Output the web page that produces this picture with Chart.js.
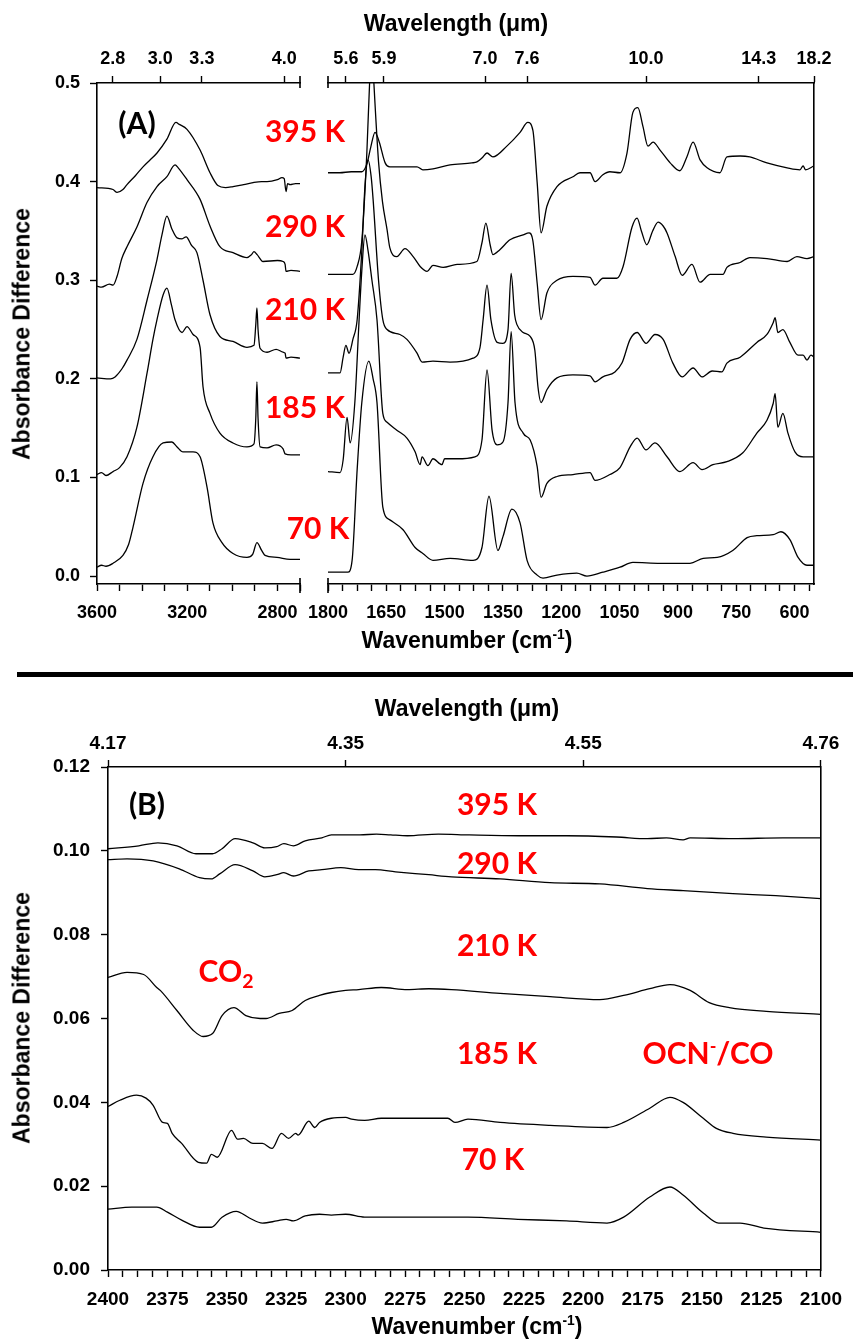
<!DOCTYPE html>
<html>
<head>
<meta charset="utf-8">
<script src="https://cdn.jsdelivr.net/npm/chart.js@4/dist/chart.umd.min.js"></script>
<style>
  body { margin: 0; background: #fff; }
  #page { position: relative; width: 853px; height: 1341px; overflow: hidden; }
  canvas { position: absolute; }
  .lbl { position: absolute; transform: translate(-50%, -50%); white-space: nowrap; }
  .ttl { font-family: 'Liberation Sans', Arial, sans-serif; font-weight: bold; font-size: 23px; color: #000; }
  .red { font-family: Lato, 'Open Sans', sans-serif; font-weight: 700; font-size: 30px; color: #ff0000; }
  .pan { font-family: Lato, 'Open Sans', sans-serif; font-weight: 700; font-size: 30px; color: #000; }
  .rot { transform: translate(-50%, -50%) rotate(-90deg); }
  sup { font-size: 60%; }
  sub { font-size: 65%; vertical-align: -0.3em; }
  #sep { position: absolute; left: 17px; top: 672px; width: 836px; height: 5px; background: #000; }
</style>
</head>
<body>
<div id="page">
  <canvas id="aLeft" width="312" height="660" style="left:0;top:0"></canvas>
  <canvas id="aRight" width="563" height="660" style="left:290px;top:0"></canvas>
  <canvas id="bChart" width="853" height="661" style="left:0;top:680px"></canvas>

  <div class="lbl ttl" style="left:456px;top:23px">Wavelength (μm)</div>
  <div class="lbl ttl" style="left:467px;top:640px">Wavenumber (cm<sup>-1</sup>)</div>
  <div class="lbl ttl rot" style="left:22px;top:334px">Absorbance Difference</div>
  <div class="lbl pan" style="left:137px;top:122px">(A)</div>
  <div class="lbl red" style="left:305px;top:130px">395 K</div>
  <div class="lbl red" style="left:305px;top:225px">290 K</div>
  <div class="lbl red" style="left:305px;top:308px">210 K</div>
  <div class="lbl red" style="left:305px;top:406px">185 K</div>
  <div class="lbl red" style="left:318px;top:527px">70 K</div>

  <div id="sep"></div>

  <div class="lbl ttl" style="left:467px;top:708px">Wavelength (μm)</div>
  <div class="lbl ttl" style="left:477px;top:1326px">Wavenumber (cm<sup>-1</sup>)</div>
  <div class="lbl ttl rot" style="left:22px;top:1018px">Absorbance Difference</div>
  <div class="lbl pan" style="left:147px;top:803px">(B)</div>
  <div class="lbl red" style="left:497px;top:803px">395 K</div>
  <div class="lbl red" style="left:497px;top:862px">290 K</div>
  <div class="lbl red" style="left:497px;top:944px">210 K</div>
  <div class="lbl red" style="left:226px;top:972px">CO<sub>2</sub></div>
  <div class="lbl red" style="left:497px;top:1052px">185 K</div>
  <div class="lbl red" style="left:708px;top:1052px">OCN<sup>-</sup>/CO</div>
  <div class="lbl red" style="left:493px;top:1158px">70 K</div>
</div>

<script>
// ---------- panel A, 3600-2700 cm-1 ----------
const a395L = [[3600,0.394],[3529,0.392],[3511,0.389],[3485,0.392],[3467,0.397],[3430,0.406],[3396,0.415],[3365,0.422],[3334,0.429],[3290,0.443],[3250,0.460],[3235,0.458],[3201,0.453],[3143,0.432],[3099,0.409],[3064,0.396],[3030,0.394],[2997,0.395],[2950,0.397],[2908,0.399],[2870,0.400],[2846,0.400],[2800,0.402],[2780,0.404],[2770,0.403],[2762,0.390],[2755,0.398],[2744,0.397],[2720,0.398],[2700,0.398]];
const a290L = [[3600,0.294],[3580,0.293],[3545,0.296],[3529,0.295],[3511,0.304],[3490,0.322],[3467,0.334],[3423,0.354],[3378,0.379],[3334,0.395],[3290,0.405],[3254,0.417],[3240,0.414],[3201,0.402],[3143,0.382],[3099,0.355],[3055,0.334],[2997,0.328],[2935,0.323],[2915,0.326],[2904,0.329],[2890,0.326],[2864,0.319],[2800,0.320],[2775,0.319],[2766,0.316],[2762,0.309],[2740,0.310],[2700,0.309]];
const a210L = [[3600,0.201],[3540,0.200],[3520,0.202],[3490,0.210],[3467,0.219],[3423,0.240],[3378,0.280],[3334,0.321],[3312,0.346],[3290,0.365],[3268,0.352],[3245,0.343],[3223,0.342],[3205,0.344],[3180,0.335],[3157,0.328],[3130,0.300],[3099,0.265],[3055,0.243],[2997,0.238],[2935,0.232],[2904,0.234],[2896,0.255],[2891,0.272],[2886,0.250],[2877,0.231],[2846,0.227],[2806,0.230],[2775,0.227],[2766,0.226],[2762,0.221],[2740,0.222],[2700,0.221]];
const a185L = [[3600,0.103],[3580,0.105],[3560,0.102],[3529,0.106],[3500,0.110],[3467,0.121],[3423,0.151],[3378,0.206],[3352,0.240],[3334,0.260],[3307,0.285],[3290,0.292],[3270,0.275],[3254,0.260],[3223,0.247],[3201,0.253],[3174,0.245],[3143,0.232],[3130,0.192],[3099,0.165],[3055,0.145],[2997,0.135],[2935,0.131],[2904,0.134],[2896,0.160],[2891,0.197],[2886,0.160],[2877,0.131],[2846,0.130],[2806,0.133],[2775,0.129],[2766,0.124],[2740,0.123],[2700,0.123]];
const a70L = [[3600,0.009],[3580,0.011],[3560,0.010],[3529,0.013],[3485,0.021],[3460,0.032],[3440,0.050],[3396,0.094],[3352,0.121],[3307,0.135],[3268,0.136],[3245,0.131],[3219,0.126],[3174,0.126],[3143,0.121],[3112,0.090],[3086,0.054],[3046,0.034],[2997,0.023],[2935,0.019],[2910,0.022],[2891,0.034],[2870,0.026],[2855,0.021],[2802,0.019],[2744,0.017],[2700,0.017]];

// ---------- panel A, 1800-550 cm-1 ----------
const a395R = [[1800,0.409],[1770,0.409],[1740,0.410],[1713,0.410],[1700,0.418],[1690,0.435],[1679,0.450],[1668,0.440],[1653,0.419],[1641,0.415],[1615,0.415],[1571,0.415],[1556,0.412],[1530,0.413],[1486,0.417],[1430,0.419],[1417,0.420],[1404,0.424],[1391,0.429],[1376,0.425],[1340,0.436],[1306,0.450],[1286,0.460],[1273,0.452],[1262,0.399],[1252,0.348],[1237,0.375],[1211,0.395],[1170,0.405],[1152,0.409],[1126,0.409],[1113,0.400],[1093,0.407],[1075,0.410],[1049,0.409],[1031,0.429],[1016,0.470],[1003,0.475],[990,0.456],[977,0.436],[964,0.440],[946,0.432],[920,0.419],[895,0.411],[877,0.425],[861,0.440],[843,0.422],[825,0.414],[792,0.409],[774,0.425],[740,0.426],[715,0.425],[671,0.419],[619,0.414],[586,0.412],[578,0.416],[572,0.412],[550,0.416]];
const a290R = [[1800,0.306],[1769,0.306],[1736,0.306],[1725,0.314],[1713,0.340],[1700,0.430],[1692,0.510],[1687,0.540],[1682,0.500],[1670,0.420],[1660,0.380],[1648,0.351],[1641,0.333],[1623,0.324],[1602,0.332],[1581,0.324],[1563,0.314],[1545,0.309],[1530,0.315],[1504,0.313],[1468,0.316],[1417,0.319],[1404,0.338],[1394,0.358],[1383,0.336],[1376,0.326],[1358,0.331],[1332,0.341],[1298,0.346],[1283,0.348],[1273,0.340],[1262,0.297],[1252,0.260],[1237,0.287],[1211,0.300],[1170,0.304],[1126,0.303],[1113,0.295],[1093,0.302],[1057,0.302],[1041,0.314],[1018,0.354],[1005,0.363],[994,0.350],[980,0.336],[965,0.350],[951,0.359],[938,0.355],[928,0.348],[907,0.324],[889,0.305],[864,0.316],[843,0.298],[817,0.306],[784,0.306],[774,0.313],[740,0.318],[715,0.323],[671,0.322],[619,0.319],[594,0.324],[568,0.322],[550,0.324]];
const a210R = [[1800,0.206],[1769,0.206],[1761,0.222],[1754,0.234],[1746,0.226],[1736,0.240],[1725,0.260],[1713,0.330],[1705,0.395],[1697,0.422],[1689,0.405],[1684,0.382],[1670,0.300],[1659,0.260],[1648,0.250],[1615,0.245],[1597,0.240],[1571,0.226],[1558,0.217],[1530,0.218],[1486,0.217],[1427,0.221],[1409,0.232],[1401,0.260],[1391,0.295],[1381,0.260],[1365,0.237],[1350,0.236],[1337,0.250],[1329,0.307],[1320,0.265],[1314,0.255],[1298,0.247],[1280,0.243],[1268,0.229],[1260,0.192],[1252,0.176],[1237,0.189],[1211,0.201],[1170,0.204],[1126,0.203],[1113,0.197],[1093,0.202],[1062,0.207],[1044,0.216],[1023,0.240],[1005,0.247],[982,0.236],[959,0.245],[938,0.240],[913,0.216],[889,0.202],[861,0.211],[838,0.202],[812,0.208],[787,0.207],[774,0.216],[740,0.222],[697,0.237],[671,0.245],[655,0.257],[650,0.262],[643,0.247],[630,0.250],[612,0.237],[591,0.224],[578,0.224],[568,0.219],[558,0.224],[550,0.222]];
const a185R = [[1800,0.106],[1769,0.105],[1761,0.118],[1751,0.161],[1743,0.135],[1731,0.176],[1720,0.260],[1713,0.310],[1705,0.346],[1697,0.330],[1687,0.300],[1674,0.260],[1659,0.165],[1648,0.156],[1623,0.148],[1597,0.140],[1576,0.126],[1563,0.113],[1558,0.121],[1543,0.112],[1530,0.119],[1507,0.113],[1500,0.119],[1468,0.119],[1422,0.121],[1404,0.138],[1391,0.209],[1378,0.148],[1365,0.133],[1350,0.136],[1337,0.176],[1329,0.248],[1319,0.176],[1298,0.145],[1280,0.138],[1262,0.111],[1252,0.080],[1237,0.094],[1211,0.101],[1170,0.103],[1126,0.105],[1113,0.097],[1075,0.103],[1049,0.110],[1023,0.131],[1005,0.140],[982,0.128],[959,0.135],[928,0.121],[895,0.106],[861,0.115],[838,0.108],[810,0.113],[774,0.116],[733,0.125],[697,0.145],[671,0.158],[655,0.175],[650,0.185],[643,0.151],[630,0.165],[617,0.145],[599,0.126],[578,0.121],[550,0.121]];
const a70R = [[1800,0.004],[1749,0.004],[1738,0.016],[1725,0.108],[1713,0.176],[1695,0.218],[1684,0.200],[1674,0.176],[1659,0.070],[1641,0.057],[1607,0.047],[1576,0.029],[1556,0.023],[1530,0.016],[1486,0.018],[1427,0.016],[1404,0.029],[1386,0.081],[1363,0.026],[1350,0.040],[1327,0.068],[1306,0.054],[1288,0.016],[1262,0.001],[1247,-0.002],[1211,0.001],[1160,0.003],[1134,0.000],[1093,0.004],[1049,0.009],[1016,0.014],[946,0.013],[869,0.013],[835,0.018],[799,0.019],[759,0.026],[722,0.039],[697,0.041],[655,0.042],[635,0.045],[612,0.037],[591,0.019],[568,0.011],[550,0.011]];

// ---------- panel B, 2400-2100 cm-1 ----------
const b395 = [[2400,0.1005],[2387,0.1012],[2379,0.1019],[2371,0.1012],[2363,0.0993],[2356,0.0993],[2352,0.1005],[2346.5,0.1029],[2339,0.1019],[2334,0.1007],[2329,0.1010],[2326,0.1017],[2322,0.1012],[2317,0.1024],[2310,0.1031],[2306,0.1038],[2294,0.1038],[2287,0.1040],[2281,0.1038],[2274,0.1036],[2261,0.1040],[2248,0.1038],[2227,0.1036],[2207,0.1036],[2186,0.1033],[2173,0.1029],[2165,0.1031],[2158,0.1026],[2155,0.1031],[2137,0.1029],[2116,0.1031],[2100,0.1031]];
const b290 = [[2400,0.0979],[2392,0.0981],[2381,0.0976],[2370,0.0957],[2361.5,0.0936],[2356.5,0.0933],[2353,0.0945],[2346.5,0.0967],[2339,0.0952],[2334,0.0938],[2329,0.0943],[2326,0.0948],[2322,0.0940],[2315.5,0.0952],[2310,0.0955],[2302,0.0960],[2294.5,0.0955],[2287.5,0.0955],[2279,0.0950],[2265,0.0943],[2255.5,0.0938],[2235,0.0933],[2214,0.0924],[2193,0.0921],[2173,0.0910],[2158,0.0905],[2137,0.0898],[2119,0.0893],[2100,0.0886]];
const b210 = [[2400,0.0698],[2392,0.0710],[2385,0.0705],[2379.5,0.0674],[2378,0.0667],[2371,0.0619],[2364,0.0571],[2360,0.0557],[2356,0.0564],[2352,0.0607],[2347,0.0626],[2342,0.0607],[2336,0.0600],[2333.5,0.0600],[2328,0.0612],[2322.5,0.0619],[2317,0.0643],[2311,0.0655],[2306,0.0662],[2300,0.0667],[2294.5,0.0669],[2285,0.0674],[2274,0.0669],[2265,0.0671],[2255.5,0.0669],[2235,0.0660],[2214,0.0652],[2193,0.0645],[2183,0.0655],[2172,0.0671],[2163.5,0.0681],[2155,0.0667],[2147,0.0638],[2138.5,0.0626],[2123,0.0617],[2100,0.0610]];
const b185 = [[2400,0.0390],[2395,0.0405],[2388,0.0417],[2384,0.0410],[2381,0.0393],[2377,0.0352],[2375,0.0350],[2373,0.0326],[2369,0.0302],[2362,0.0257],[2358.5,0.0255],[2356.5,0.0276],[2354,0.0269],[2348,0.0333],[2345.5,0.0312],[2343,0.0314],[2339,0.0302],[2335,0.0302],[2331,0.0290],[2327,0.0326],[2324,0.0314],[2321,0.0326],[2320,0.0322],[2315.5,0.0355],[2313,0.0340],[2311,0.0352],[2306,0.0362],[2300,0.0364],[2297.5,0.0360],[2292,0.0357],[2285,0.0362],[2278,0.0362],[2265,0.0362],[2257,0.0362],[2254,0.0352],[2248.5,0.0360],[2235,0.0352],[2214,0.0345],[2190,0.0340],[2183,0.0352],[2172,0.0386],[2163.5,0.0412],[2158,0.0400],[2149.5,0.0362],[2144,0.0338],[2137,0.0326],[2123,0.0317],[2100,0.0310]];
const b70 = [[2400,0.0145],[2390,0.0150],[2379.5,0.0150],[2375,0.0138],[2369,0.0119],[2361.5,0.0102],[2356.5,0.0102],[2352,0.0126],[2346,0.0140],[2340.5,0.0124],[2335,0.0112],[2329,0.0117],[2325,0.0121],[2322,0.0117],[2317,0.0129],[2311,0.0133],[2306,0.0131],[2300,0.0133],[2292,0.0126],[2278,0.0126],[2248.5,0.0126],[2227.5,0.0121],[2207,0.0117],[2190,0.0112],[2183,0.0126],[2172,0.0174],[2163.5,0.0198],[2158,0.0179],[2149.5,0.0136],[2143,0.0112],[2134,0.0112],[2124,0.0100],[2100,0.0090]];

// top (wavelength) axis tick positions, in cm-1, and their labels
const topLeftWn = [3530, 3320, 3135, 2770];
const topLeftLbl = ['2.8', '3.0', '3.3', '4.0'];
const topRightWn = [1754, 1656, 1396, 1288, 982, 692, 550];
const topRightLbl = ['5.6', '5.9', '7.0', '7.6', '10.0', '14.3', '18.2'];
const topBWn = [2400, 2300, 2200, 2100];
const topBLbl = ['4.17', '4.35', '4.55', '4.76'];

Chart.defaults.font.family = "'Liberation Sans', Arial, sans-serif";
Chart.defaults.font.weight = 'bold';
Chart.defaults.color = '#000';

const AXIS_W = 1.6;

function lines(list) {
  return list.map(arr => ({
    data: arr.map(p => ({ x: p[0], y: p[1] })),
    borderColor: '#000',
    borderWidth: 1.3,
    pointRadius: 0,
    fill: false,
    cubicInterpolationMode: 'monotone',
    xAxisID: 'x',
    yAxisID: 'y'
  }));
}

function bottomAxis(min, max, step, every, h, size, pad) {
  return {
    type: 'linear', position: 'bottom', reverse: true, min: min, max: max,
    border: { display: true, color: '#000', width: AXIS_W },
    grid: { display: true, drawOnChartArea: false, tickLength: 7, tickColor: '#000', tickWidth: 1.4 },
    ticks: {
      stepSize: step, autoSkip: false, maxRotation: 0, includeBounds: false, padding: pad,
      font: { size: size, weight: 'bold' },
      callback: v => (Math.abs(v % every) < 1e-6 ? String(v) : '')
    },
    afterFit: s => { s.height = h; }
  };
}

function topAxis(min, max, vals, labels, h, size, pad) {
  return {
    type: 'linear', position: 'top', reverse: true, min: min, max: max,
    border: { display: true, color: '#000', width: AXIS_W },
    grid: { display: true, drawOnChartArea: false, tickLength: 7, tickColor: '#000', tickWidth: 1.4 },
    afterBuildTicks: s => { s.ticks = vals.map(v => ({ value: v })); },
    ticks: {
      autoSkip: false, maxRotation: 0, padding: pad,
      font: { size: size, weight: 'bold' },
      callback: (v, i) => labels[i]
    },
    afterFit: s => { s.height = h; }
  };
}

function sideBorder(pos, min, max, w) {
  return {
    type: 'linear', position: pos, min: min, max: max,
    border: { display: true, color: '#000', width: AXIS_W },
    grid: { display: false },
    ticks: { display: false },
    afterFit: s => { s.width = w; }
  };
}

// short caps where the broken axis stops
function breakCaps(side) {
  return {
    id: 'breakCaps' + side,
    afterDraw(chart) {
      const { ctx, chartArea } = chart;
      const x = side === 'right' ? chartArea.right : chartArea.left;
      ctx.save();
      ctx.strokeStyle = '#000';
      ctx.lineWidth = AXIS_W;
      ctx.beginPath();
      ctx.moveTo(x, chartArea.top - 7); ctx.lineTo(x, chartArea.top + 5);
      ctx.moveTo(x, chartArea.bottom - 6); ctx.lineTo(x, chartArea.bottom + 9);
      ctx.stroke();
      ctx.restore();
    }
  };
}

const common = {
  responsive: false,
  animation: false,
  devicePixelRatio: 1,
  plugins: { legend: { display: false }, tooltip: { enabled: false } }
};

new Chart(document.getElementById('aLeft'), {
  type: 'line',
  data: { datasets: lines([a395L, a290L, a210L, a185L, a70L]) },
  options: Object.assign({}, common, {
    layout: { padding: { left: 0, right: 12, top: 0, bottom: 0 } },
    scales: {
      x: bottomAxis(2700, 3600, 100, 400, 76, 18, 11),
      x2: topAxis(2700, 3600, topLeftWn, topLeftLbl, 83, 18, 6),
      y: {
        type: 'linear', position: 'left', min: -0.008, max: 0.5,
        border: { display: true, color: '#000', width: AXIS_W },
        grid: { display: true, drawOnChartArea: false, tickLength: 7, tickColor: '#000', tickWidth: 1.4 },
        ticks: { stepSize: 0.1, includeBounds: false, padding: 10, font: { size: 18, weight: 'bold' }, callback: v => v.toFixed(1) },
        afterFit: s => { s.width = 97; }
      }
    }
  }),
  plugins: [breakCaps('right')]
});

new Chart(document.getElementById('aRight'), {
  type: 'line',
  data: { datasets: lines([a395R, a290R, a210R, a185R, a70R]) },
  options: Object.assign({}, common, {
    layout: { padding: { left: 38, right: 0, top: 0, bottom: 0 } },
    scales: {
      x: bottomAxis(550, 1800, 37.5, 150, 76, 18, 11),
      x2: topAxis(550, 1800, topRightWn, topRightLbl, 83, 18, 6),
      y: sideBorder('right', -0.008, 0.5, 39)
    }
  }),
  plugins: [breakCaps('left')]
});

new Chart(document.getElementById('bChart'), {
  type: 'line',
  data: { datasets: lines([b395, b290, b210, b185, b70]) },
  options: Object.assign({}, common, {
    layout: { padding: 0 },
    scales: {
      x: bottomAxis(2100, 2400, 6.25, 25, 71, 19, 11),
      x2: topAxis(2100, 2400, topBWn, topBLbl, 87, 19, 5),
      y: {
        type: 'linear', position: 'left', min: 0, max: 0.12,
        border: { display: true, color: '#000', width: AXIS_W },
        grid: { display: true, drawOnChartArea: false, tickLength: 7, tickColor: '#000', tickWidth: 1.4 },
        ticks: { stepSize: 0.02, padding: 11, font: { size: 19, weight: 'bold' }, callback: v => v.toFixed(2) },
        afterFit: s => { s.width = 108; }
      },
      y2: sideBorder('right', 0, 0.12, 28)
    }
  })
});
</script>
</body>
</html>
